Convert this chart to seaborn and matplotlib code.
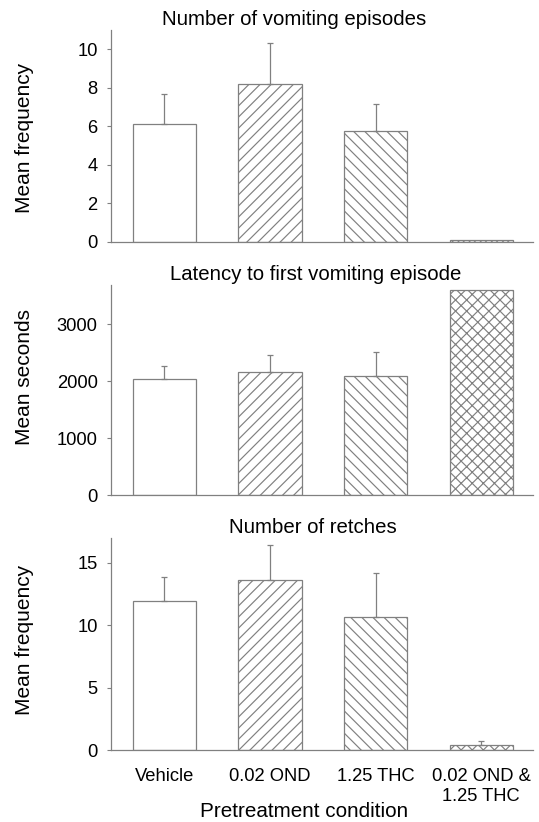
import numpy as np
import pandas as pd
import matplotlib
matplotlib.use("Agg")
import matplotlib.pyplot as plt
import seaborn as sns

# ---------------- data ----------------
conditions = ["Vehicle", "0.02 OND", "1.25 THC", "0.02 OND &\n1.25 THC"]
hatches = ["", "///", "\\\\\\", "xxx"]

vomit_mean = [6.1, 8.2, 5.77, 0.1]
vomit_sem = [1.6, 2.1, 1.4, 0.0]

latency_mean = [2030, 2150, 2093, 3605]
latency_sem = [232, 306, 421, 0]

retch_mean = [11.96, 13.65, 10.65, 0.4]
retch_sem = [1.92, 2.73, 3.53, 0.32]

titles = ["Number of vomiting episodes", "Latency to first vomiting episode", "Number of retches"]
ylabels = ["Mean frequency", "Mean seconds", "Mean frequency"]
yticks_list = [[0, 2, 4, 6, 8, 10], [0, 1000, 2000, 3000], [0, 5, 10, 15]]
ylims = [(0, 11), (0, 3685), (0, 16.95)]
xlabel = "Pretreatment condition"

# ---------------- style ----------------
sns.set_style("white")
plt.rcParams["font.family"] = ["Liberation Sans", "DejaVu Sans"]
plt.rcParams["hatch.linewidth"] = 0.85
for k in ["text.color", "axes.labelcolor", "xtick.labelcolor", "ytick.labelcolor"]:
    plt.rcParams[k] = "black"

gray = "#808080"
fig = plt.figure(figsize=(5.39, 8.22), dpi=100)

W, H = 539.0, 822.0
left_px, right_px = 111.0, 533.0
panels_px = [(30.0, 241.7), (285.0, 495.0), (538.3, 750.0)]
title_x = [0.434, 0.485, 0.479]
ylabel_y = [0.488, 0.563, 0.52]

datasets = [(vomit_mean, vomit_sem), (latency_mean, latency_sem), (retch_mean, retch_sem)]

for i, ((top_px, bot_px), (means, sems)) in enumerate(zip(panels_px, datasets)):
    ax = fig.add_axes([left_px / W, 1 - bot_px / H, (right_px - left_px) / W, (bot_px - top_px) / H])
    df = pd.DataFrame({"condition": conditions, "value": means})
    sns.barplot(data=df, x="condition", y="value", ax=ax, color="white", saturation=1,
                edgecolor=gray, linewidth=0.9, width=0.6, errorbar=None)
    for patch, h in zip(ax.patches, hatches):
        patch.set_hatch(h)
    xs = np.arange(len(conditions))
    m = np.array(means, dtype=float)
    s = np.array(sems, dtype=float)
    mask = s > 0
    ax.errorbar(xs[mask], m[mask], yerr=[np.zeros(mask.sum()), s[mask]], fmt="none",
                ecolor=gray, elinewidth=0.9, capsize=2.2, capthick=0.9, zorder=1)
    ax.set_xlim(-0.505, 3.49)
    ax.set_ylim(*ylims[i])
    ax.set_yticks(yticks_list[i])
    ax.set_yticklabels([str(t) for t in yticks_list[i]])
    for sp in ["top", "right"]:
        ax.spines[sp].set_visible(False)
    for sp in ["left", "bottom"]:
        ax.spines[sp].set_color(gray)
        ax.spines[sp].set_linewidth(0.9)
    ax.tick_params(axis="y", left=True, length=3.1, width=0.8, color=gray, pad=6.5, labelsize=13.2)
    ax.tick_params(axis="x", bottom=False, length=0, pad=13.0, labelsize=13.2)
    ax.set_title(titles[i], fontsize=14.7, x=title_x[i], pad=3.5)
    ax.set_ylabel(ylabels[i], fontsize=15)
    ax.yaxis.set_label_coords(-0.204, ylabel_y[i])
    ax.yaxis.label.set_va("center")
    if i < 2:
        ax.set_xticklabels([])
        ax.set_xlabel("")
    else:
        ax.set_xlabel(xlabel, fontsize=14.9)
        ax.xaxis.set_label_coords(0.458, -0.291)
        ax.xaxis.label.set_va("center")

fig.savefig("out.png", dpi=100)
